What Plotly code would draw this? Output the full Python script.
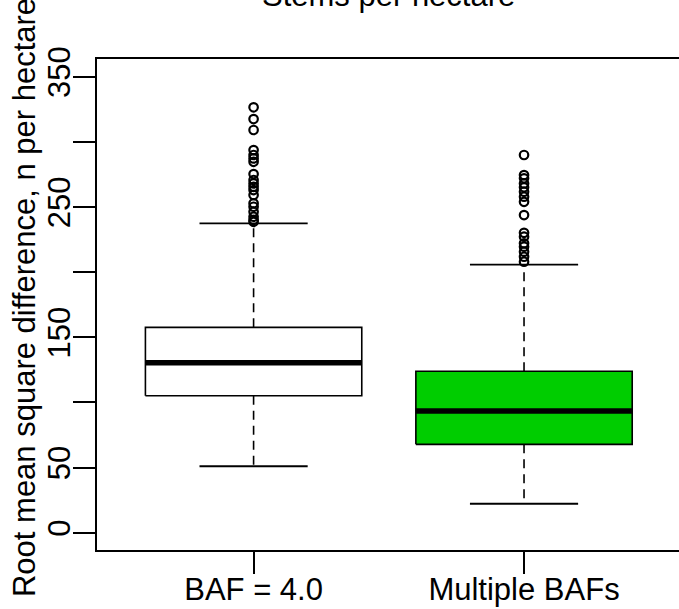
import plotly.graph_objects as go

# ---- data ----
categories = ["BAF = 4.0", "Multiple BAFs"]
box_colors = ["white", "#00CD00"]
q1 = [105.1, 67.8]
median = [130.5, 93.4]
q3 = [157.6, 123.9]
lower_whisker = [51.0, 22.2]
upper_whisker = [237.4, 205.7]
outliers = [
    [326.5, 317.5, 309.1, 293.7, 289.9, 287.3, 284.7, 275.3, 270.7, 268.1,
     265.5, 263.0, 259.2, 252.8, 250.2, 246.4, 242.5, 240.0, 238.6],
    [289.9, 274.5, 272.0, 268.1, 265.1, 261.7, 257.9, 254.0, 243.8, 230.2,
     227.2, 222.1, 219.5, 215.7, 211.8, 208.0],
]
y_tickvals = [0, 50, 100, 150, 200, 250, 300, 350]
y_ticktext = ["0", "50", "", "150", "", "250", "", "350"]
title_text = "Stems per hectare"
y_title = "Root mean square difference, n per hectare"

# ---- styles ----
FONT = "Liberation Sans, Arial, sans-serif"
FS = 31
HALF_BOX = 0.4
HALF_STAPLE = 0.2

fig = go.Figure()
for i, cat in enumerate(categories):
    xc = i + 1
    # whiskers (dashed)
    fig.add_trace(go.Scatter(x=[xc, xc], y=[q3[i], upper_whisker[i]], mode="lines",
                             line=dict(color="black", width=1.6, dash="9px,6px"),
                             hoverinfo="skip", showlegend=False))
    fig.add_trace(go.Scatter(x=[xc, xc], y=[q1[i], lower_whisker[i]], mode="lines",
                             line=dict(color="black", width=1.6, dash="9px,6px"),
                             hoverinfo="skip", showlegend=False))
    # staples
    for v in (upper_whisker[i], lower_whisker[i]):
        fig.add_trace(go.Scatter(x=[xc - HALF_STAPLE, xc + HALF_STAPLE], y=[v, v], mode="lines",
                                 line=dict(color="black", width=1.8),
                                 hoverinfo="skip", showlegend=False))
    # box
    fig.add_trace(go.Scatter(
        x=[xc - HALF_BOX, xc + HALF_BOX, xc + HALF_BOX, xc - HALF_BOX, xc - HALF_BOX],
        y=[q1[i], q1[i], q3[i], q3[i], q1[i]],
        mode="lines", fill="toself", fillcolor=box_colors[i],
        line=dict(color="black", width=1.6), hoverinfo="skip", showlegend=False))
    # median
    fig.add_trace(go.Scatter(x=[xc - HALF_BOX, xc + HALF_BOX], y=[median[i], median[i]],
                             mode="lines", line=dict(color="black", width=5.5),
                             hoverinfo="skip", showlegend=False))
    # outliers
    fig.add_trace(go.Scatter(x=[xc] * len(outliers[i]), y=outliers[i], mode="markers",
                             marker=dict(symbol="circle-open", size=8.5, color="black",
                                         line=dict(width=2.2, color="black")),
                             showlegend=False))

fig.update_layout(
    width=679, height=609,
    margin=dict(l=97, r=0, t=59, b=59),
    paper_bgcolor="white", plot_bgcolor="white",
    font=dict(family=FONT, size=FS, color="black"),
    xaxis=dict(range=[0.421, 2.573], tickvals=[1, 2], ticktext=categories,
               automargin=False, ticklabelstandoff=-11,
               showgrid=False, zeroline=False, showline=True, mirror=True,
               linecolor="black", linewidth=2, ticks="outside", ticklen=22,
               tickwidth=2, tickcolor="black", tickfont=dict(size=FS)),
    yaxis=dict(range=[-13.3, 363.6], tickvals=y_tickvals, ticktext=y_ticktext,
               automargin=False, ticklabelstandoff=-9,
               tickangle=-90, showgrid=False, zeroline=False, showline=True,
               mirror=True, linecolor="black", linewidth=2, ticks="outside",
               ticklen=22, tickwidth=2, tickcolor="black", tickfont=dict(size=FS)),
    annotations=[
        dict(text=title_text, xref="paper", yref="paper", x=0.5, y=1.0896,
             xanchor="center", yanchor="bottom", showarrow=False,
             font=dict(size=FS, family=FONT, color="black")),
        dict(text=y_title, xref="paper", yref="paper", x=-0.1254, y=0.5132,
             xanchor="center", yanchor="middle", textangle=-90, showarrow=False,
             font=dict(size=FS, family=FONT, color="black")),
    ],
)

fig.write_html("out.html")
